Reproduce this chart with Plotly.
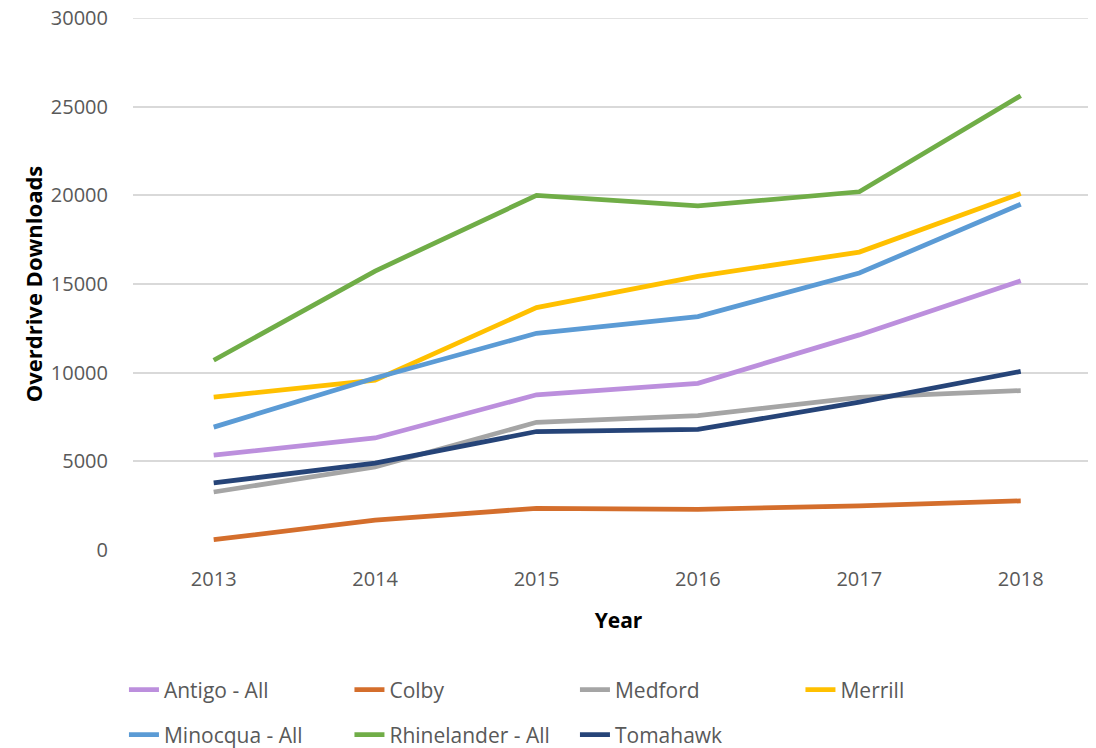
import plotly.graph_objects as go

years = ["2013", "2014", "2015", "2016", "2017", "2018"]
y_ticks = [0, 5000, 10000, 15000, 20000, 25000, 30000]

antigo = [5350, 6320, 8750, 9400, 12130, 15180]
colby = [580, 1690, 2350, 2290, 2490, 2770]
medford = [3270, 4680, 7200, 7580, 8600, 8990]
merrill = [8620, 9580, 13670, 15430, 16800, 20100]
minocqua = [6930, 9700, 12220, 13160, 15620, 19500]
rhinelander = [10700, 15730, 20000, 19400, 20200, 25620]
tomahawk = [3780, 4900, 6680, 6800, 8340, 10070]

series = [
    ("Antigo - All", antigo, "#BC8FDD", "legend"),
    ("Colby", colby, "#D46E2C", "legend"),
    ("Medford", medford, "#A5A5A5", "legend"),
    ("Merrill", merrill, "#FFC000", "legend"),
    ("Minocqua - All", minocqua, "#5B9BD5", "legend2"),
    ("Rhinelander - All", rhinelander, "#70AD47", "legend2"),
    ("Tomahawk", tomahawk, "#264478", "legend2"),
]

fig = go.Figure()
for name, vals, color, leg in series:
    fig.add_trace(go.Scatter(
        x=years, y=vals, name=name, mode="lines",
        line=dict(color=color, width=4.75),
        legend=leg,
    ))

legend_style = dict(
    orientation="h",
    xref="container", yref="container",
    x=0.1058, xanchor="left", yanchor="middle",
    entrywidth=180.5,
    font=dict(family="Open Sans", size=21, color="#595959"),
    bgcolor="rgba(0,0,0,0)",
    traceorder="normal",
)

fig.update_layout(
    width=1096,
    height=748,
    margin=dict(l=125, r=0, t=10, b=206, autoexpand=False),
    plot_bgcolor="white",
    paper_bgcolor="white",
    font=dict(family="Open Sans", size=20, color="#595959"),
    xaxis=dict(
        type="category",
        range=[-0.5, 5.516],
        automargin=False,
        showgrid=False,
        showline=False,
        zeroline=False,
        ticks="",
        ticklabelstandoff=15,
        tickfont=dict(family="Open Sans", size=20, color="#595959"),
        title=dict(text="<b>Year</b>", standoff=22,
                   font=dict(family="Open Sans", size=21, color="black")),
    ),
    yaxis=dict(
        range=[0, 30000],
        tickmode="array",
        tickvals=y_ticks,
        ticktext=[str(v) for v in y_ticks],
        ticklabeloverflow="allow",
        automargin=False,
        showgrid=True,
        gridcolor="#D9D9D9",
        gridwidth=1.5,
        zeroline=False,
        showline=False,
        ticks="",
        ticklabelstandoff=24,
        tickfont=dict(family="Open Sans", size=20, color="#595959"),
        title=dict(text="<b>Overdrive Downloads</b>", standoff=2,
                   font=dict(family="Open Sans", size=22, color="black")),
    ),
    legend=dict(legend_style, y=1 - 682 / 748),
    legend2=dict(legend_style, y=1 - 727 / 748),
)

# top gridline sits right on the plot edge, draw it explicitly
fig.add_hline(y=y_ticks[-1], line_color="#D9D9D9", line_width=1.5, layer="below")

fig.write_html("out.html")
